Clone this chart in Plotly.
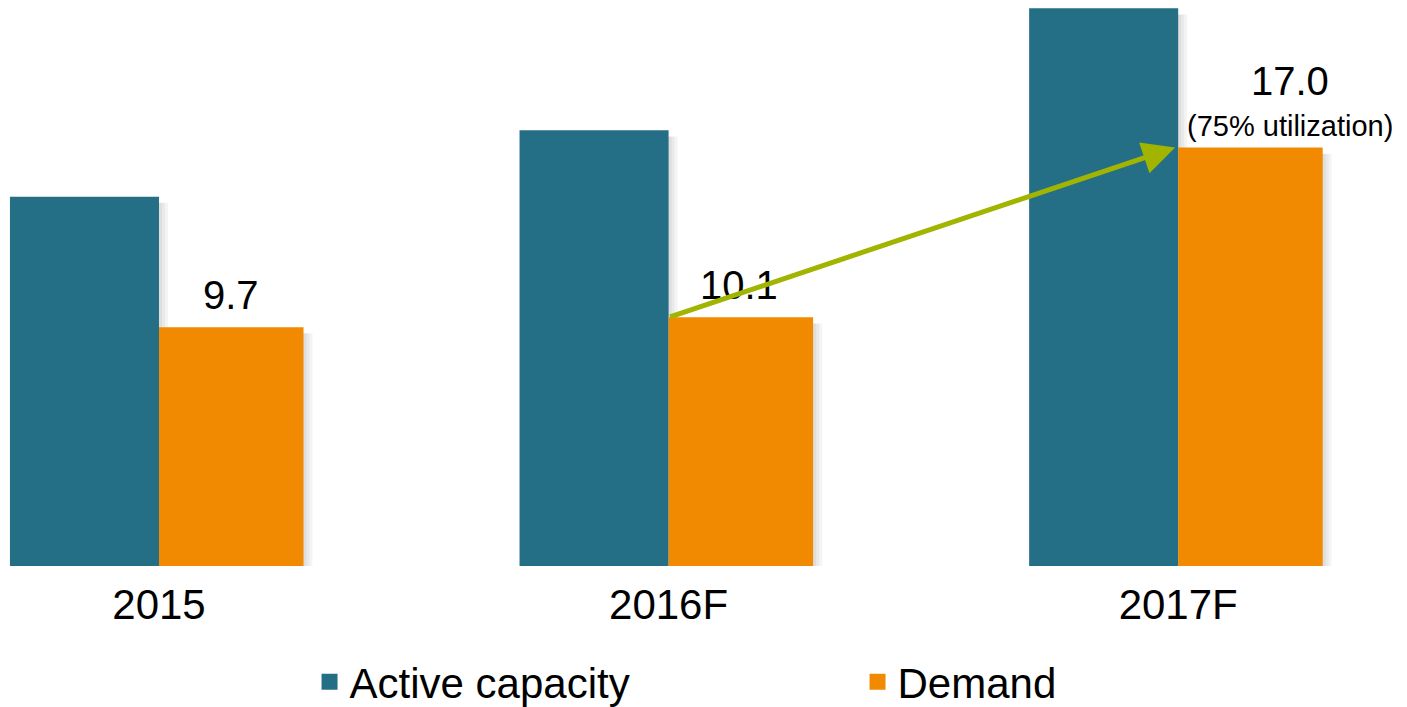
import plotly.graph_objects as go

categories = ["2015", "2016F", "2017F"]
capacity = [15.0, 17.7, 22.65]
demand = [9.7, 10.1, 17.0]
demand_labels = ["9.7", "10.1", "17.0"]
util_note = "(75% utilization)"

TEAL = "#256F86"
ORANGE = "#F18A00"
GREEN = "#A0B400"
FONT = "Liberation Sans, Arial, sans-serif"

CAP_W = 0.2925   # capacity bar width (category units)
DEM_W = 0.2836   # demand bar width
PX = 1 / 509.5   # one pixel in category units

fig = go.Figure()

# soft drop shadows behind bars
for k in (3, 6, 9):
    for vals, off, w in ((capacity, -CAP_W, CAP_W), (demand, 0.0, DEM_W)):
        fig.add_trace(go.Bar(x=categories, y=[v - 0.25 for v in vals], offset=off + k * PX,
                             width=w, marker=dict(color="rgba(0,0,0,0.045)", line=dict(width=0)),
                             showlegend=False, hoverinfo="skip"))

fig.add_trace(go.Bar(x=categories, y=capacity, name="Active capacity", offset=-CAP_W, width=CAP_W,
                     marker=dict(color=TEAL, line=dict(width=0)), showlegend=False))
fig.add_trace(go.Bar(x=categories, y=demand, name="Demand", offset=0.0, width=DEM_W,
                     marker=dict(color=ORANGE, line=dict(width=0)), showlegend=False))
# legend entries with square markers
fig.add_trace(go.Scatter(x=[None], y=[None], mode="markers", name="Active capacity",
                         marker=dict(symbol="square", size=22, color=TEAL)))
fig.add_trace(go.Scatter(x=[None], y=[None], mode="markers", name="Demand",
                         marker=dict(symbol="square", size=22, color=ORANGE)))

off = DEM_W / 2
shifts = [8, 8, 42]
xshifts = [0, -2, 40]
for i, (v, t) in enumerate(zip(demand, demand_labels)):
    fig.add_annotation(x=i + off, y=v, text=t, showarrow=False, yanchor="bottom",
                       yshift=shifts[i], xshift=xshifts[i],
                       font=dict(size=40, color="black", family=FONT))
fig.add_annotation(x=2 + off, y=demand[2], text=util_note, showarrow=False,
                   yanchor="bottom", yshift=3, xshift=40,
                   font=dict(size=29, color="black", family=FONT))

# growth arrow from 2016F demand to 2017F demand
fig.add_annotation(x=1.994, y=demand[2], ax=1.0, ay=demand[1], xref="x", yref="y",
                   axref="x", ayref="y", text="", showarrow=True, arrowhead=2,
                   arrowsize=1.3, arrowwidth=5, arrowcolor=GREEN)

fig.update_layout(
    width=1407, height=707,
    margin=dict(l=0, r=0, t=0, b=141, autoexpand=False),
    plot_bgcolor="white", paper_bgcolor="white",
    barmode="overlay",
    font=dict(family=FONT, color="black", size=42),
    xaxis=dict(type="category", range=[-0.312, 2.449], showgrid=False, zeroline=False,
               showline=False, ticks="", tickfont=dict(size=42), ticklabelstandoff=10),
    yaxis=dict(range=[0, 22.99], visible=False, showgrid=False, zeroline=False),
    legend=dict(orientation="h", x=0.220, xanchor="left", y=-0.145, yanchor="top",
                font=dict(size=42), entrywidth=503, itemsizing="trace"),
)

fig.write_html("out.html", config={"displayModeBar": False},
               post_script="document.body.style.margin='0';document.body.style.overflow='hidden';")
